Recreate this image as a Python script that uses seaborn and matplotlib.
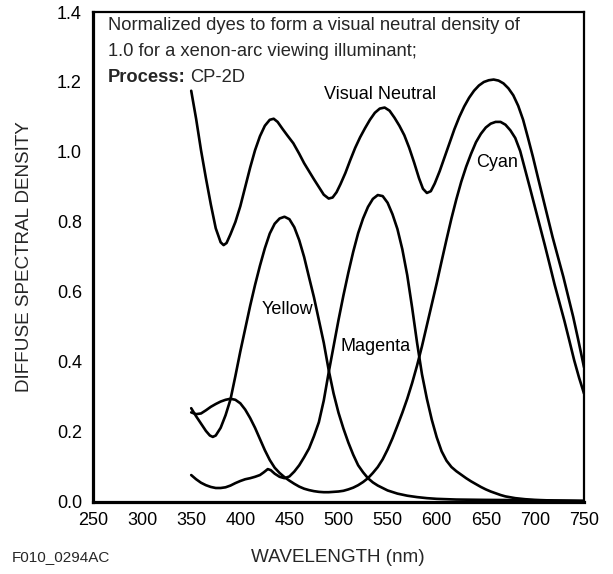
import numpy as np
import pandas as pd
import matplotlib
matplotlib.use("Agg")
import matplotlib.pyplot as plt
import seaborn as sns

# ---- data ----
wl_neutral = [350, 355, 360, 365, 370, 375, 380, 383, 386, 390, 395, 400, 405, 410, 415, 420, 425,
              430, 434, 438, 443, 448, 454, 460, 465, 470, 475, 480, 485, 490, 494, 498, 502, 507,
              512, 517, 522, 527, 532, 537, 542, 547, 552, 557, 562, 567, 572, 577, 582, 586, 590,
              594, 598, 603, 608, 613, 618, 623, 628, 633, 638, 643, 648, 653, 658, 663, 668, 673,
              678, 683, 688, 693, 698, 703, 708, 713, 718, 723, 729, 734, 739, 744, 750]
d_neutral = [1.175, 1.095, 1.005, 0.925, 0.850, 0.782, 0.742, 0.734, 0.740, 0.765, 0.800, 0.845,
             0.900, 0.955, 1.005, 1.045, 1.075, 1.092, 1.095, 1.086, 1.066, 1.047, 1.025, 0.995,
             0.968, 0.945, 0.922, 0.900, 0.878, 0.867, 0.870, 0.885, 0.908, 0.940, 0.977, 1.012,
             1.042, 1.068, 1.092, 1.112, 1.124, 1.127, 1.118, 1.098, 1.075, 1.048, 1.012, 0.970,
             0.925, 0.895, 0.883, 0.888, 0.910, 0.945, 0.985, 1.025, 1.065, 1.100, 1.130, 1.155,
             1.175, 1.190, 1.200, 1.205, 1.207, 1.204, 1.196, 1.182, 1.162, 1.132, 1.092, 1.040,
             0.986, 0.928, 0.871, 0.814, 0.757, 0.705, 0.643, 0.586, 0.529, 0.465, 0.385]

wl_cyan = [350, 355, 360, 365, 370, 375, 380, 385, 390, 395, 400, 405, 410, 415, 420, 425, 430,
           435, 440, 445, 450, 455, 460, 465, 470, 475, 480, 485, 490, 495, 500, 505, 510, 515,
           520, 525, 530, 535, 540, 545, 550, 555, 560, 565, 570, 575, 580, 585, 590, 595, 600,
           605, 610, 615, 620, 625, 630, 635, 640, 645, 650, 655, 660, 665, 670, 675, 680, 685,
           690, 695, 700, 705, 710, 715, 720, 725, 730, 735, 740, 745, 750]
d_cyan = [0.256, 0.251, 0.253, 0.262, 0.272, 0.280, 0.287, 0.292, 0.295, 0.292, 0.282, 0.264,
          0.240, 0.212, 0.180, 0.148, 0.120, 0.098, 0.083, 0.071, 0.061, 0.052, 0.044, 0.038,
          0.034, 0.031, 0.029, 0.028, 0.028, 0.029, 0.030, 0.032, 0.036, 0.041, 0.048, 0.057,
          0.068, 0.083, 0.100, 0.122, 0.150, 0.182, 0.218, 0.255, 0.295, 0.340, 0.390, 0.445,
          0.505, 0.565, 0.625, 0.688, 0.750, 0.810, 0.865, 0.915, 0.958, 0.995, 1.028, 1.052,
          1.070, 1.081, 1.086, 1.086, 1.078, 1.062, 1.040, 1.003, 0.950, 0.897, 0.843, 0.789,
          0.735, 0.679, 0.622, 0.570, 0.518, 0.462, 0.405, 0.355, 0.310]

wl_magenta = [350, 355, 360, 365, 370, 375, 380, 385, 390, 395, 400, 405, 410, 415, 420, 424, 428,
              431, 435, 440, 445, 450, 455, 460, 465, 470, 475, 480, 485, 490, 495, 500, 505, 510,
              515, 520, 525, 530, 535, 540, 545, 550, 555, 560, 565, 570, 575, 580, 585, 590, 595,
              600, 605, 610, 615, 620, 625, 630, 635, 640, 645, 650, 655, 660, 665, 670, 680, 690,
              700, 720, 750]
d_magenta = [0.077, 0.065, 0.055, 0.048, 0.043, 0.040, 0.040, 0.042, 0.047, 0.054, 0.060, 0.065,
             0.068, 0.072, 0.077, 0.085, 0.094, 0.091, 0.081, 0.072, 0.068, 0.073, 0.087, 0.105,
             0.128, 0.153, 0.188, 0.228, 0.290, 0.370, 0.445, 0.520, 0.590, 0.655, 0.715, 0.768,
             0.810, 0.843, 0.866, 0.877, 0.874, 0.855, 0.822, 0.780, 0.722, 0.648, 0.555, 0.455,
             0.365, 0.295, 0.235, 0.185, 0.145, 0.118, 0.100, 0.088, 0.078, 0.068, 0.059, 0.051,
             0.043, 0.036, 0.030, 0.025, 0.020, 0.016, 0.011, 0.008, 0.006, 0.004, 0.003]

wl_yellow = [350, 355, 360, 365, 369, 372, 375, 380, 385, 390, 395, 400, 405, 410, 415, 420, 425,
             430, 435, 440, 445, 450, 455, 460, 465, 470, 475, 480, 485, 490, 495, 500, 505, 510,
             515, 520, 525, 530, 535, 540, 545, 550, 560, 570, 580, 590, 600, 620, 650, 700, 750]
d_yellow = [0.268, 0.245, 0.224, 0.203, 0.190, 0.186, 0.190, 0.212, 0.248, 0.293, 0.360, 0.430,
            0.495, 0.560, 0.620, 0.675, 0.725, 0.767, 0.795, 0.810, 0.815, 0.808, 0.785, 0.748,
            0.700, 0.642, 0.585, 0.520, 0.455, 0.377, 0.310, 0.255, 0.210, 0.170, 0.135, 0.105,
            0.085, 0.068, 0.056, 0.047, 0.040, 0.033, 0.024, 0.018, 0.014, 0.011, 0.009, 0.007,
            0.006, 0.005, 0.003]

x_ticks = [250, 300, 350, 400, 450, 500, 550, 600, 650, 700, 750]
y_ticks = [0.0, 0.2, 0.4, 0.6, 0.8, 1.0, 1.2, 1.4]
y_tick_labels = ["0.0", "0.2", "0.4", "0.6", "0.8", "1.0", "1.2", "1.4"]

curve_labels = ["Visual Neutral", "Cyan", "Yellow", "Magenta"]
label_x = [542, 661, 448, 537.7]
label_y = [1.163, 0.969, 0.549, 0.443]

# ---- figure ----
sns.set_theme(style="white")
plt.rcParams["font.family"] = ["Liberation Sans", "DejaVu Sans"]

W, H = 613, 574
fig = plt.figure(figsize=(W / 100, H / 100), dpi=100)
ax = fig.add_axes([93 / W, 1 - 502 / H, (584 - 93) / W, (502 - 12) / H])

LW = 1.9
for wl, d in [(wl_neutral, d_neutral), (wl_cyan, d_cyan),
              (wl_magenta, d_magenta), (wl_yellow, d_yellow)]:
    sns.lineplot(x=wl, y=d, ax=ax, color="black", linewidth=LW, sort=False,
                 estimator=None)

ax.set_xlim(250, 750)
ax.set_ylim(0.0, 1.4)
ax.set_xticks(x_ticks)
ax.set_xticklabels([str(t) for t in x_ticks])
ax.set_yticks(y_ticks)
ax.set_yticklabels(y_tick_labels)
ax.tick_params(direction="in", length=8, width=1.5, labelsize=13, pad=7,
               colors="black", top=False, right=False)
ax.tick_params(axis="y", pad=8)
ax.set_xlabel("")
ax.set_ylabel("")
for side in ["left", "bottom"]:
    ax.spines[side].set_linewidth(2.3)
for side in ["top", "right"]:
    ax.spines[side].set_linewidth(1.6)
for s in ax.spines.values():
    s.set_color("black")
    s.set_visible(True)
ax.grid(False)

for lab, lx, ly in zip(curve_labels, label_x, label_y):
    ax.text(lx, ly, lab, ha="center", va="center", fontsize=13, color="black")

def fx(px):
    return px / W

def fy(py):
    return 1 - py / H

fs = 13.2
fig.text(fx(108), fy(30), "Normalized dyes to form a visual neutral density of",
         fontsize=fs, va="baseline", ha="left")
fig.text(fx(108), fy(56), "1.0 for a xenon-arc viewing illuminant;",
         fontsize=fs, va="baseline", ha="left")
t_bold = fig.text(fx(108), fy(82), "Process:", fontsize=fs, fontweight="bold",
                  va="baseline", ha="left")
fig.canvas.draw()
bb = t_bold.get_window_extent(renderer=fig.canvas.get_renderer())
fig.text(bb.x1 / fig.dpi / fig.get_figwidth() + fx(4), fy(82), "CP-2D",
         fontsize=fs, va="baseline", ha="left")

fig.text(fx(25), fy(257), "DIFFUSE SPECTRAL DENSITY", rotation=90, fontsize=13.6,
         ha="center", va="center")
fig.text(fx(338), fy(557), "WAVELENGTH (nm)", fontsize=13.6, ha="center", va="center")
fig.text(fx(12), fy(557), "F010_0294AC", fontsize=11, ha="left", va="center")

fig.savefig("out.png", dpi=100)
